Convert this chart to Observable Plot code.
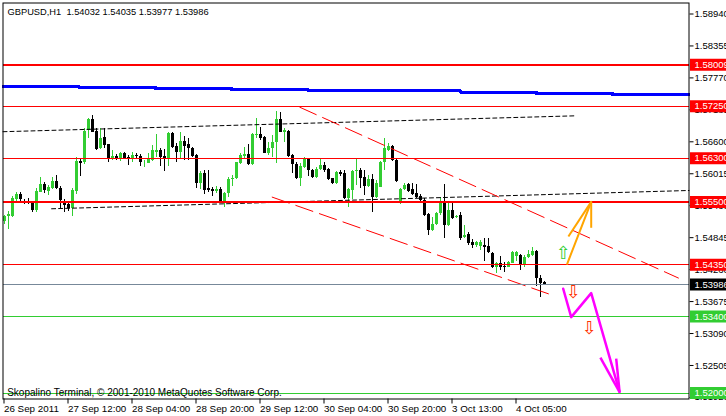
<!DOCTYPE html>
<html><head><meta charset="utf-8">
<script src="https://cdn.jsdelivr.net/npm/d3@7"></script>
<script src="https://cdn.jsdelivr.net/npm/@observablehq/plot@0.6"></script>
<style>
html,body{margin:0;padding:0;background:#fff;}
#chart{width:726px;height:416px;overflow:hidden;}
</style></head><body><div id="chart"></div>
<script>
// ---------- data ----------
const symbol = "GBPUSD,H1";
const lastQuote = [1.54032, 1.54035, 1.53977, 1.53986];
const copyright = "Skopalino Terminal, \u00a9 2001-2010 MetaQuotes Software Corp.";

const open = [1.55141,1.55233,1.55233,1.55550,1.55635,1.55513,1.55501,1.55495,1.55336,1.55678,
1.55812,1.55696,1.55745,1.55873,1.55739,1.55495,1.55452,1.55373,1.55690,1.56239,
1.56227,1.56800,1.57008,1.56788,1.56471,1.56672,1.56544,1.56288,1.56331,1.56270,
1.56380,1.56318,1.56300,1.56349,1.56337,1.56215,1.56209,1.56258,1.56398,1.56447,
1.56331,1.56288,1.56752,1.56520,1.56410,1.56605,1.56544,1.56483,1.56349,1.55843,
1.56020,1.55739,1.55721,1.55690,1.55727,1.55495,1.55648,1.55910,1.55922,1.56209,
1.56337,1.56367,1.56184,1.56715,1.56733,1.56672,1.56392,1.56471,1.56581,1.57008,
1.56776,1.56794,1.56349,1.56184,1.55934,1.56123,1.56288,1.56068,1.55946,1.56093,
1.56166,1.56093,1.55922,1.55843,1.56032,1.56014,1.55568,1.55709,1.56050,1.56075,
1.55953,1.55782,1.55916,1.55587,1.55770,1.56215,1.56441,1.56514,1.56258,1.55465,
1.55721,1.55813,1.55721,1.55660,1.55599,1.55526,1.55270,1.54977,1.55087,1.55282,
1.55465,1.55069,1.55343,1.55209,1.55252,1.54843,1.54904,1.54764,1.54703,1.54690,
1.54703,1.54690,1.54550,1.54306,1.54367,1.54318,1.54306,1.54379,1.54501,1.54513,
1.54337,1.54477,1.54520,1.54599,1.54093,1.54032];
const high = [1.55251,1.55324,1.55605,1.55666,1.55666,1.55550,1.55568,1.55513,1.55751,1.55946,
1.55849,1.55800,1.55946,1.55983,1.55788,1.55544,1.55495,1.55739,1.56312,1.56270,
1.56837,1.57032,1.57081,1.56837,1.56837,1.56837,1.56556,1.56441,1.56361,1.56410,
1.56404,1.56349,1.56404,1.56392,1.56361,1.56258,1.56380,1.56532,1.56727,1.56471,
1.56459,1.56764,1.56764,1.56563,1.56776,1.56703,1.56654,1.56495,1.56361,1.56062,
1.56075,1.56075,1.55770,1.55788,1.55770,1.55678,1.55940,1.55983,1.56227,1.56392,
1.56489,1.56544,1.56746,1.57020,1.56868,1.56697,1.56581,1.56715,1.57154,1.57142,
1.56849,1.56807,1.56361,1.56215,1.56197,1.56318,1.56300,1.56093,1.56136,1.56276,
1.56227,1.56105,1.55934,1.56056,1.56068,1.56075,1.55739,1.56075,1.56288,1.56105,
1.56075,1.55984,1.56002,1.55892,1.56240,1.56655,1.56563,1.56539,1.56289,1.55740,
1.55831,1.55843,1.55831,1.55819,1.55636,1.55557,1.55294,1.55209,1.55313,1.55587,
1.55813,1.55496,1.55496,1.55252,1.55313,1.55069,1.54947,1.54806,1.54782,1.54794,
1.54825,1.54825,1.54581,1.54398,1.54501,1.54398,1.54410,1.54599,1.54599,1.54538,
1.54520,1.54611,1.54660,1.54611,1.54154,1.54035];
const low = [1.55086,1.54995,1.55221,1.55483,1.55465,1.55452,1.55452,1.55300,1.55312,1.55666,
1.55660,1.55617,1.55721,1.55721,1.55373,1.55300,1.55324,1.55239,1.55629,1.55971,
1.56190,1.56666,1.56764,1.56441,1.56459,1.56483,1.56215,1.56258,1.56251,1.56239,
1.56276,1.56166,1.56227,1.56276,1.56148,1.56136,1.56197,1.56239,1.56318,1.56154,
1.56062,1.56154,1.56471,1.56215,1.56276,1.56258,1.56258,1.56318,1.55751,1.55727,
1.55629,1.55666,1.55605,1.55648,1.55483,1.55404,1.55574,1.55788,1.55910,1.56178,
1.56288,1.56166,1.56166,1.56654,1.56624,1.56380,1.56349,1.56318,1.56197,1.56764,
1.56581,1.56318,1.56014,1.55910,1.55782,1.56105,1.55971,1.55934,1.55922,1.56068,
1.56044,1.55898,1.55824,1.55824,1.55971,1.55544,1.55404,1.55538,1.55800,1.55739,
1.55618,1.55758,1.55313,1.55557,1.55758,1.56075,1.56429,1.56246,1.55862,1.55453,
1.55709,1.55672,1.55611,1.55569,1.55514,1.55233,1.54886,1.54965,1.55069,1.55252,
1.54825,1.55050,1.55172,1.55191,1.54794,1.54825,1.54703,1.54642,1.54672,1.54611,
1.54416,1.54550,1.54276,1.54196,1.54245,1.54215,1.54294,1.54367,1.54416,1.54245,
1.54306,1.54459,1.54501,1.53952,1.53757,1.53977];
const close = [1.55233,1.55263,1.55556,1.55635,1.55538,1.55495,1.55489,1.55336,1.55690,1.55818,
1.55709,1.55763,1.55873,1.55739,1.55526,1.55434,1.55373,1.55702,1.56239,1.56209,
1.56794,1.57008,1.56776,1.56459,1.56666,1.56532,1.56300,1.56337,1.56270,1.56386,
1.56300,1.56300,1.56349,1.56331,1.56215,1.56227,1.56288,1.56441,1.56441,1.56306,
1.56288,1.56752,1.56489,1.56410,1.56605,1.56508,1.56483,1.56337,1.55843,1.56026,
1.55709,1.55709,1.55696,1.55727,1.55495,1.55660,1.55910,1.55934,1.56215,1.56349,
1.56367,1.56184,1.56733,1.56733,1.56666,1.56392,1.56483,1.56593,1.57008,1.56776,
1.56807,1.56337,1.56178,1.55934,1.56148,1.56288,1.56068,1.55946,1.56093,1.56166,
1.56075,1.55910,1.55843,1.56032,1.56001,1.55568,1.55727,1.56056,1.56075,1.55934,
1.55782,1.55916,1.55587,1.55837,1.56228,1.56472,1.56514,1.56258,1.55880,1.55721,
1.55801,1.55691,1.55630,1.55587,1.55526,1.55252,1.54977,1.55087,1.55282,1.55465,
1.55069,1.55343,1.55191,1.55233,1.54825,1.54886,1.54733,1.54703,1.54757,1.54764,
1.54672,1.54581,1.54306,1.54379,1.54306,1.54306,1.54398,1.54581,1.54568,1.54337,
1.54489,1.54538,1.54599,1.54093,1.54001,1.53986];

const timeTickBars = [0, 16, 32, 48, 64, 80, 96, 112, 128];
const timeTickLabels = ["26 Sep 2011","27 Sep 12:00","28 Sep 04:00","28 Sep 20:00","29 Sep 12:00",
  "30 Sep 04:00","30 Sep 20:00","3 Oct 13:00","4 Oct 05:00"];
const priceTicks = [1.58940,1.58355,1.57770,1.57185,1.56600,1.56015,1.55430,1.54845,1.54260,
  1.53675,1.53090,1.52505,1.51920];

const levelPrices = [1.58009, 1.57250, 1.56300, 1.55500, 1.54350, 1.53986, 1.53400, 1.52000];
const levelKinds  = ["majorRes","res","res","majorRes","res","bid","sup","sup"];

// slow moving average (blue), step changes
const maStepBars   = [-0.25, 18.9, 37.9, 56.9, 75.9, 95.1, 114.1, 133.1, 152.1, 171.25];
const maStepPrices = [1.57608,1.57594,1.57575,1.57557,1.57544,1.57533,1.57511,1.57484,1.57465,1.57465];
// two dotted trend lines (black)
const upperTrendBars = [-0.25, 142.9];
const upperTrendPrices = [1.56785, 1.57076];
const lowerTrendBars = [11.9, 171.25];
const lowerTrendPrices = [1.55374, 1.55709];
// descending channel (red dashed)
const channelTopBars = [73.95, 168.6];
const channelTopPrices = [1.57233, 1.54106];
const channelBotBars = [67.05, 136.1];
const channelBotPrices = [1.55587, 1.53817];
// forecast paths
const bullPathBars = [140.8, 146.8];
const bullPathPrices = [1.54367, 1.55500];
const bullHeadBars = [141.1, 146.8];
const bullHeadPrices = [1.54867, 1.55026];
const bearPathBars = [139.8, 141.8, 146.8, 153.9];
const bearPathPrices = [1.53910, 1.53390, 1.53829, 1.52018];
const bearHeadBars = [149.1, 153.05];
const bearHeadPrices = [1.52647, 1.52629];
const signalBars = [139.9, 142.4, 146.4];
const signalPrices = [1.54556, 1.53842, 1.53192];
const signalDirs = ["up", "down", "down"];

// ---------- styles ----------
const FONT = "Tahoma, 'Liberation Sans', Arial, sans-serif";
const FS = 9.8;
const GREEN = "#32cd32";
const kindStyle = {
  majorRes: {color: "#ff0000", width: 2},
  res: {color: "#ff0000", width: 1},
  bid: {color: "#778899", width: 1, box: "#000000"},
  sup: {color: "#32cd32", width: 1}
};
const X_MAX = 171.25;

const bars = open.map((o, i) => ({i, o, h: high[i], l: low[i], c: close[i]}));
const candleColor = d => d.c >= d.o ? GREEN : "#000000";
const levels = levelPrices.map((v, k) => ({v, kind: levelKinds[k]}));
const pts = (xs, ys) => xs.map((x, k) => ({x, y: ys[k]}));
const fanLinks = (headX, headY, apex) => headX.map((x, k) => ({x1: x, y1: headY[k], x2: apex.x, y2: apex.y}));

const bullApex = {x: bullPathBars[1], y: bullPathPrices[1]};
const bearApex = {x: bearPathBars[3], y: bearPathPrices[3]};
const signals = signalBars.map((x, k) => ({x, y: signalPrices[k], dir: signalDirs[k]}));

const chart = Plot.plot({
  width: 726, height: 416,
  marginLeft: 2.5, marginRight: 37.5, marginTop: 2.5, marginBottom: 17.5,
  style: {fontFamily: FONT, fontSize: FS + "px", background: "white", color: "black", overflow: "hidden"},
  x: {type: "linear", domain: [-0.25, X_MAX]},
  y: {type: "linear", domain: [1.518913, 1.591414]},
  marks: [
    // candles
    Plot.ruleX(bars, {x: "i", y1: "l", y2: "h", stroke: candleColor, strokeWidth: 1, shapeRendering: "crispEdges"}),
    Plot.ruleX(bars, {x: "i", y1: "o", y2: "c", stroke: candleColor, strokeWidth: 3, shapeRendering: "crispEdges"}),
    // trend lines
    Plot.line(pts(upperTrendBars, upperTrendPrices), {x: "x", y: "y", stroke: "black", strokeWidth: 1, strokeDasharray: "4,3"}),
    Plot.line(pts(lowerTrendBars, lowerTrendPrices), {x: "x", y: "y", stroke: "black", strokeWidth: 1, strokeDasharray: "4,3"}),
    Plot.line(pts(maStepBars, maStepPrices), {x: "x", y: "y", stroke: "#0000ff", strokeWidth: 3, curve: "step-after", shapeRendering: "crispEdges"}),
    Plot.line(pts(channelTopBars, channelTopPrices), {x: "x", y: "y", stroke: "#ff0000", strokeWidth: 1, strokeDasharray: "18,7"}),
    Plot.line(pts(channelBotBars, channelBotPrices), {x: "x", y: "y", stroke: "#ff0000", strokeWidth: 1, strokeDasharray: "18,7"}),
    // horizontal levels
    Plot.ruleY(levels, {y: "v", stroke: d => kindStyle[d.kind].color, strokeWidth: d => kindStyle[d.kind].width, shapeRendering: "crispEdges"}),
    // forecast arrows
    Plot.line(pts(bullPathBars, bullPathPrices), {x: "x", y: "y", stroke: "#ffa500", strokeWidth: 2}),
    Plot.link(fanLinks(bullHeadBars, bullHeadPrices, bullApex), {x1: "x1", y1: "y1", x2: "x2", y2: "y2", stroke: "#ffa500", strokeWidth: 2}),
    Plot.line(pts(bearPathBars, bearPathPrices), {x: "x", y: "y", stroke: "#ff00ff", strokeWidth: 2.5}),
    Plot.link(fanLinks(bearHeadBars, bearHeadPrices, bearApex), {x1: "x1", y1: "y1", x2: "x2", y2: "y2", stroke: "#ff00ff", strokeWidth: 2.5}),
    Plot.text(signals, {x: "x", y: "y", text: d => d.dir === "up" ? "\u21e7" : "\u21e9",
      fill: d => d.dir === "up" ? GREEN : "#ff3300", fontSize: 18, fontFamily: "DejaVu Sans"}),
    // texts
    Plot.text([`${symbol} \u00a0${lastQuote.map(v => v.toFixed(5)).join(" ")}`],
      {frameAnchor: "top-left", textAnchor: "start", lineAnchor: "top", dx: 4.5, dy: 4.9, fill: "black", fontSize: 9.3}),
    Plot.text([copyright],
      {frameAnchor: "bottom-left", textAnchor: "start", lineAnchor: "bottom", dx: 4.2, dy: -2.6, fill: "black", fontSize: 10}),
    // axes
    Plot.axisY({anchor: "right", ticks: priceTicks, tickFormat: d => d.toFixed(5), tickSize: 4, tickPadding: 1.5,
      fontSize: 9.5, color: "black", label: null}),
    Plot.axisX({anchor: "bottom", ticks: timeTickBars, tickFormat: d => timeTickLabels[timeTickBars.indexOf(d)],
      tickSize: 5, tickPadding: 1.2, textAnchor: "start", fontSize: FS, color: "black", label: null}),
    // price label boxes on the scale
    Plot.ruleY(levels, {y: "v", x1: X_MAX + 0.375, x2: X_MAX + 12, strokeWidth: 12,
      stroke: d => kindStyle[d.kind].box || kindStyle[d.kind].color}),
    Plot.text(levels, {y: "v", x: X_MAX, dx: 5.5, text: d => d.v.toFixed(5), textAnchor: "start",
      fill: "white", fontSize: 9.5}),
    Plot.frame({stroke: "black"})
  ]
});
document.getElementById("chart").appendChild(chart);
</script></body></html>
